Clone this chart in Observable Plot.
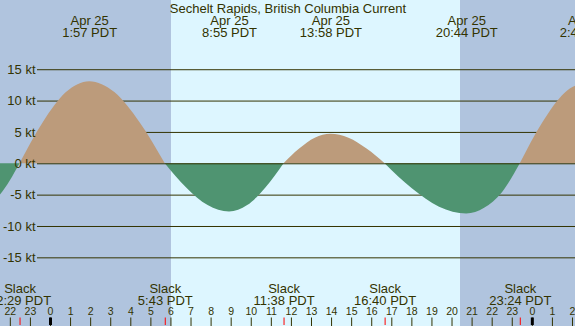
<!DOCTYPE html>
<html><head><meta charset="utf-8">
<script src="https://cdn.jsdelivr.net/npm/d3@7"></script>
<script src="https://cdn.jsdelivr.net/npm/@observablehq/plot@0.6"></script>
<style>html,body{margin:0;padding:0;overflow:hidden;background:#fff}</style>
</head><body><div id="chart"></div>
<script>
// ---- data ----
const title = "Sechelt Rapids, British Columbia Current";
// max current events (hours since midnight Apr 25, PDT)
const maxTimes = [1.95, 8.917, 13.967, 20.733, 26.733];
const maxDates = ["Apr 25", "Apr 25", "Apr 25", "Apr 25", "Apr 26"];
const maxLabels = ["1:57 PDT", "8:55 PDT", "13:58 PDT", "20:44 PDT", "2:44 PDT"];
// slack events
const slackTimes = [-1.517, 5.717, 11.633, 16.667, 23.4];
const slackLabels = ["22:29 PDT", "5:43 PDT", "11:38 PDT", "16:40 PDT", "23:24 PDT"];
// current curve samples (hour, knots, lobe index)
const curveHours = [
  -3.6, -2.5, -1.517,
  -1.517, -0.361, 0.794, 1.95, 3.206, 4.461, 5.717,
  5.717, 6.783, 7.85, 8.917, 9.822, 10.728, 11.633,
  11.633, 12.411, 13.189, 13.967, 14.867, 15.767, 16.667,
  16.667, 18.022, 19.378, 20.733, 21.622, 22.511, 23.4,
  23.4, 24.517, 25.633, 26.733
];
const curveKnots = [
  -7.0, -5.0, 0,
  0, 6.55, 11.35, 13.1, 11.35, 6.55, 0,
  0, -3.85, -6.67, -7.7, -6.67, -3.85, 0,
  0, 2.35, 4.07, 4.7, 4.07, 2.35, 0,
  0, -4.0, -6.93, -8.0, -7.1, -4.6, 0,
  0, 6.5, 11.26, 13.0
];
const curveLobe = [
  0, 0, 0,
  1, 1, 1, 1, 1, 1, 1,
  2, 2, 2, 2, 2, 2, 2,
  3, 3, 3, 3, 3, 3, 3,
  4, 4, 4, 4, 4, 4, 4,
  5, 5, 5, 5
];
const lobeKinds = ["ebb", "flood", "ebb", "flood", "ebb", "flood"];
const yTicks = [15, 10, 5, 0, -5, -10, -15];
const hourTicks = [-2, -1, 0, 1, 2, 3, 4, 5, 6, 7, 8, 9, 10, 11, 12, 13, 14, 15, 16, 17, 18, 19, 20, 21, 22, 23, 24, 25, 26];
const hourLabels = ["22", "23", "0", "1", "2", "3", "4", "5", "6", "7", "8", "9", "10", "11", "12", "13", "14", "15", "16", "17", "18", "19", "20", "21", "22", "23", "0", "1", "2"];
const midnights = [0, 24];
const sunrise = 6.03, sunset = 20.42;
const xStart = -2.49, xEnd = 26.15;

// ---- build ----
const curve = curveHours.map((t, i) => ({t, kt: curveKnots[i], lobe: curveLobe[i]}));
const flood = curve.filter(d => lobeKinds[d.lobe] === "flood");
const ebb = curve.filter(d => lobeKinds[d.lobe] === "ebb");
const nights = [{a: xStart, b: sunrise}, {a: sunset, b: xEnd}];
const days = [{a: sunrise, b: sunset}];

const ink = "#333300";
const chart = Plot.plot({
  width: 575, height: 326,
  marginTop: 0, marginRight: 0, marginBottom: 0, marginLeft: 0,
  x: {domain: [xStart, xEnd], axis: null},
  y: {domain: [-25.95, 26.04], axis: null},
  style: {fontFamily: "'Liberation Sans', Arial, sans-serif", fontSize: "13px", background: "#fff", overflow: "hidden"},
  marks: [
    Plot.rect(nights, {x1: "a", x2: "b", fill: "#b0c4de"}),
    Plot.rect(days, {x1: "a", x2: "b", fill: "#ddf6ff"}),
    Plot.ruleY(yTicks.filter(d => d !== 0), {y: d => d, stroke: ink, strokeWidth: 1, insetLeft: 37}),
    Plot.areaY(flood, {x: "t", y: "kt", z: "lobe", fill: "#bc9b7b", curve: "monotone-x", clip: true}),
    Plot.areaY(ebb, {x: "t", y: "kt", z: "lobe", fill: "#4f9471", curve: "monotone-x", clip: true}),
    Plot.ruleY([0], {stroke: ink, strokeWidth: 1, insetLeft: 37}),
    Plot.text(yTicks, {y: d => d, text: d => `${d} kt`, frameAnchor: "left", dx: 35, textAnchor: "end", lineAnchor: "middle", fill: ink}),
    Plot.text([title], {text: d => d, frameAnchor: "top", lineAnchor: "top", dy: 2.8, fill: ink}),
    Plot.text(maxTimes, {x: d => d, text: (d, i) => maxDates[i], frameAnchor: "top", lineAnchor: "top", dy: 14.8, fill: ink}),
    Plot.text(maxTimes, {x: d => d, text: (d, i) => maxLabels[i], frameAnchor: "top", lineAnchor: "top", dy: 26.8, fill: ink}),
    Plot.text(slackTimes, {x: d => d, text: () => "Slack", frameAnchor: "bottom", lineAnchor: "bottom", dy: -33.7, fill: ink}),
    Plot.text(slackTimes, {x: d => d, text: (d, i) => slackLabels[i], frameAnchor: "bottom", lineAnchor: "bottom", dy: -21.7, fill: ink}),
    Plot.text(hourTicks, {x: d => d, text: (d, i) => hourLabels[i], frameAnchor: "bottom", lineAnchor: "bottom", dy: -11.7, fontSize: 10.5, fill: ink}),
    Plot.ruleX(hourTicks, {x: d => d, stroke: ink, strokeWidth: 1, insetTop: 317.5}),
    Plot.ruleX(slackTimes, {x: d => d, stroke: "#ff0000", strokeWidth: 1, insetTop: 317.5, insetBottom: 1}),
    Plot.ruleX(midnights, {x: d => d, stroke: "#000", strokeWidth: 3, insetTop: 317.5, insetBottom: 1})
  ]
});
document.getElementById("chart").appendChild(chart);
</script>
</body></html>
